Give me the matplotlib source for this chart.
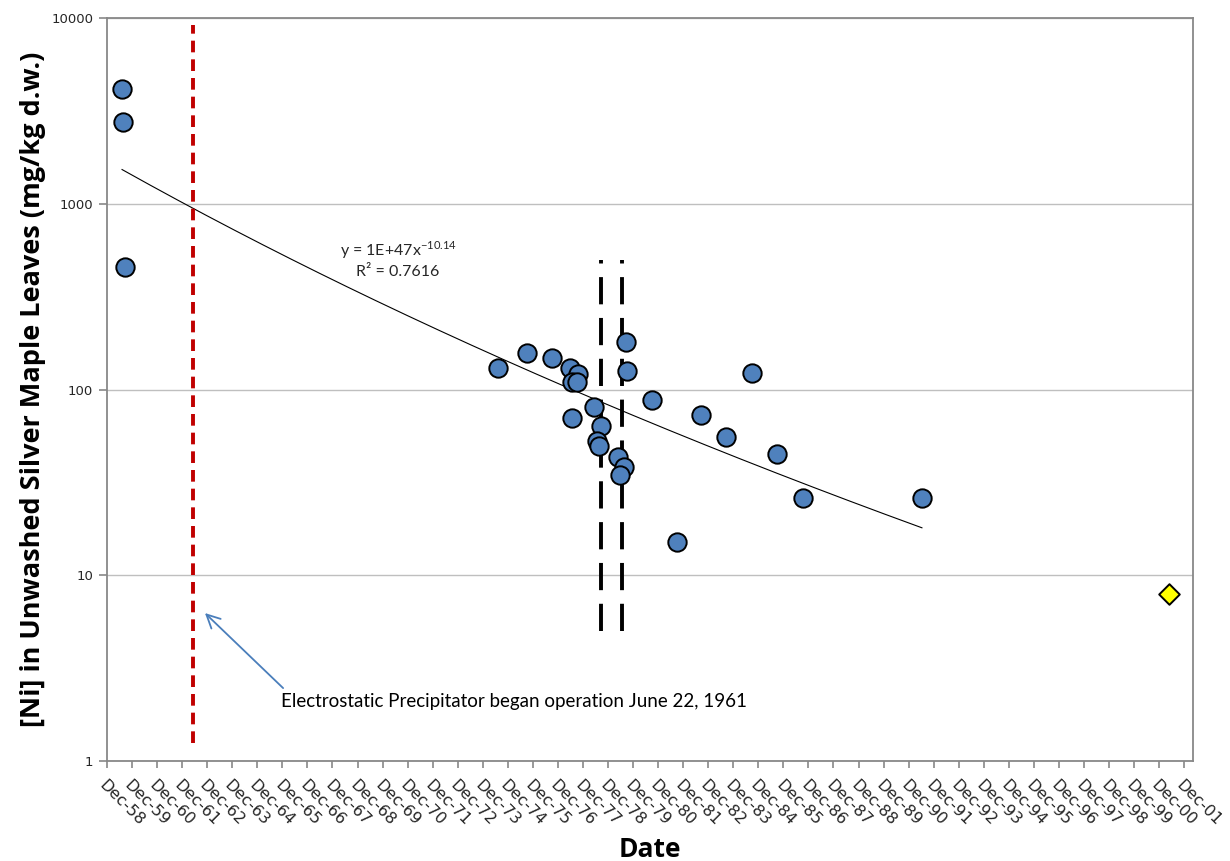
import matplotlib
matplotlib.use("Agg")
import matplotlib.pyplot as plt
import numpy as np

# ---- Data (decimal years, mg/kg d.w.) ----
leaf_year = [1959.52, 1959.56, 1959.64, 1974.53, 1975.69, 1976.68, 1977.40,
             1977.72, 1977.48, 1977.68, 1977.48, 1978.36, 1978.64, 1978.48,
             1978.56, 1979.32, 1979.56, 1979.40, 1979.64, 1979.68, 1980.68,
             1982.63, 1981.67, 1984.67, 1983.63, 1985.67, 1986.70, 1991.45]
leaf_ni = [4150, 2750, 456, 131, 157, 148, 131,
           121, 110, 110, 70, 80.5, 63.6, 52.8,
           49.6, 43.3, 38.3, 34.6, 180, 126, 88,
           73, 15.1, 123, 55.5, 45, 26.1, 26.1]

recent_year = [2001.32]
recent_ni = [7.9]

esp_year = [1962.37, 1962.37]
esp_y = [1.25, 9200]

marker_years = [1978.64, 1979.48]
marker_y = [5, 500]

tick_years = [1958.92 + k for k in range(44)]
tick_labels = ["Dec-%02d" % ((58 + k) % 100) for k in range(44)]

# ---- Power trendline fitted on Excel date serials ----
serial = (np.array(leaf_year) - 1900.0) * 365.25 + 1
b, a = np.polyfit(np.log(serial), np.log(leaf_ni), 1)
fit_x = np.linspace(min(leaf_year), max(leaf_year), 200)
fit_y = np.exp(a) * ((fit_x - 1900.0) * 365.25 + 1) ** b

# ---- Plot ----
fig = plt.figure(figsize=(12.3, 8.61), dpi=100)
ax = fig.add_axes([0.087, 0.1161, 0.8829, 0.863])

GRID = "#BFBFBF"
SPINE = "#888888"
TXT = "#262626"

ax.set_yscale("log")
ax.set_ylim(1, 10000)
ax.set_xlim(1958.92, 2002.27)

ax.yaxis.grid(True, color=GRID, linewidth=1.0)
ax.set_axisbelow(True)
for s in ax.spines.values():
    s.set_color(SPINE)
    s.set_linewidth(1.3)

ax.plot(fit_x, fit_y, color="black", linewidth=0.8, zorder=2)
ax.plot(esp_year, esp_y, color="#C00000", linewidth=2.8, linestyle=(0, (3, 1.8)), zorder=3)
for xv in marker_years:
    ax.plot([xv, xv], marker_y, color="black", linewidth=2.8,
            linestyle=(0, (7, 3.5)), zorder=3)

ax.scatter(leaf_year, leaf_ni, s=175, color="#4F81BD", edgecolor="black",
           linewidth=1.4, zorder=4)
ax.scatter(recent_year, recent_ni, s=110, marker="D", color="#FFFF00",
           edgecolor="black", linewidth=1.4, zorder=4)

ax.text(1970.54, 564, r"y = 1E+47x$^{\mathregular{-10.14}}$", ha="center", va="center",
        fontsize=11.5, family="Lato", color=TXT)
ax.text(1970.54, 429, "R² = 0.7616", ha="center", va="center",
        fontsize=11.5, family="Lato", color=TXT)

# arrow and its caption
ax.annotate("", xy=(1962.83, 6.26), xytext=(1965.95, 2.47),
            arrowprops=dict(arrowstyle="->", color="#4A7EBB", linewidth=1.3,
                            shrinkA=0, shrinkB=0, mutation_scale=24))
ax.text(1965.87, 2.08, "Electrostatic Precipitator began operation June 22, 1961",
        ha="left", va="center", fontsize=13.5, family="Lato", color="black")

ax.set_yticks([1, 10, 100, 1000, 10000])
ax.set_yticklabels(["1", "10", "100", "1000", "10000"], family="DejaVu Sans")
ax.minorticks_off()
ax.tick_params(axis="y", which="major", length=6, color=SPINE, width=1.2,
               labelsize=9.5, labelcolor=TXT, pad=4)

ax.set_xticks(tick_years)
ax.set_xticklabels(tick_labels, rotation=-45, ha="left", va="top",
                   rotation_mode="anchor", family="DejaVu Sans")
ax.tick_params(axis="x", length=5, color=SPINE, width=1.2, labelsize=11.5,
               labelcolor=TXT, pad=7)

ax.set_ylabel("[Ni] in Unwashed Silver Maple Leaves (mg/kg d.w.)", fontsize=19.5,
              fontweight="bold", family="Open Sans", labelpad=4)
ax.set_xlabel("Date", fontsize=19, fontweight="bold", family="Open Sans", labelpad=5)

fig.savefig("out.png", dpi=100, facecolor="white")
